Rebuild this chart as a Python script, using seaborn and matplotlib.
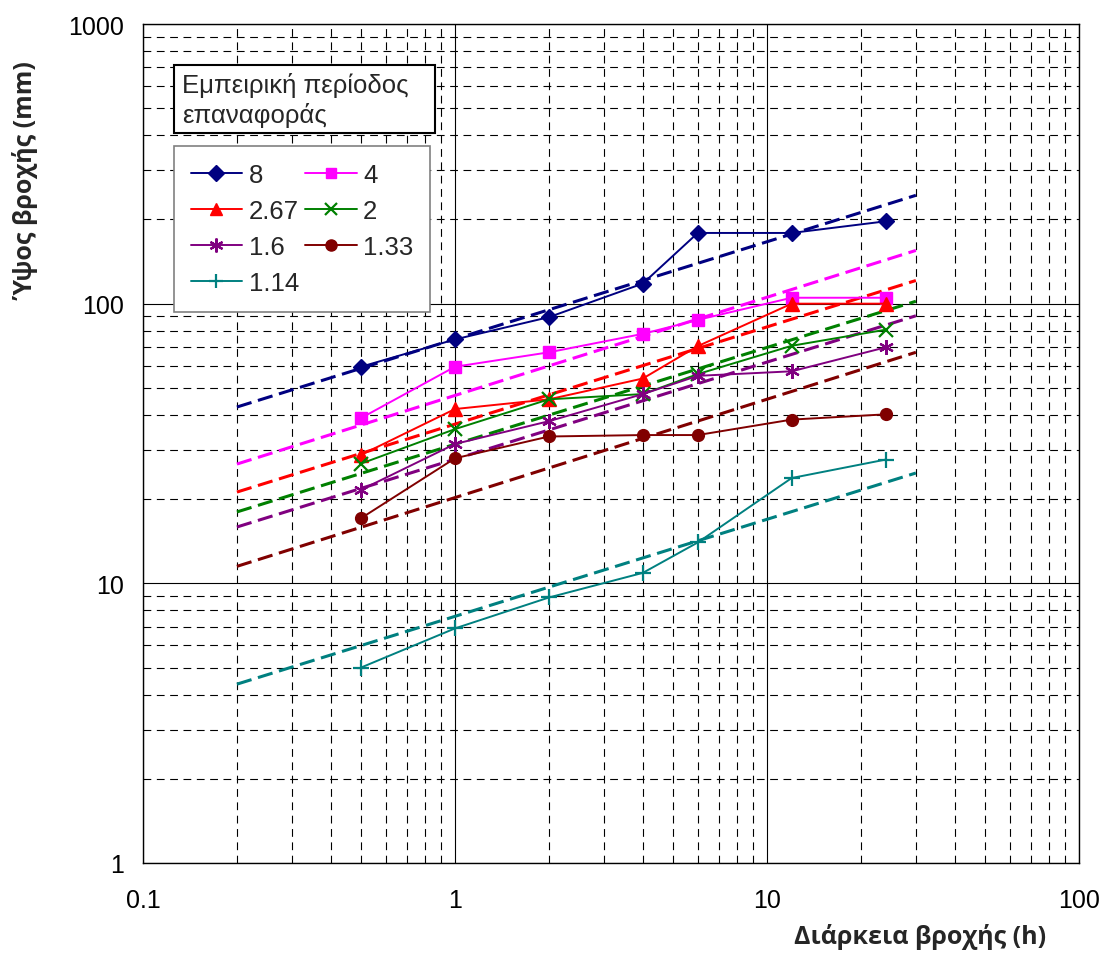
import numpy as np
import pandas as pd
import matplotlib
matplotlib.use("Agg")
import matplotlib.pyplot as plt
from matplotlib.patches import Rectangle
from matplotlib.lines import Line2D
import seaborn as sns

# ---------------- data ----------------
durations = [0.5, 1, 2, 4, 6, 12, 24]  # h
periods = ["8", "4", "2.67", "2", "1.6", "1.33", "1.14"]

depth_8 = [59.5, 74.5, 89.5, 118, 179, 179, 197]
depth_4 = [39, 59.5, 67, 78, 87.5, 105, 105]
depth_267 = [28.8, 42, 45.5, 54, 70.5, 100, 100]
depth_2 = [26.8, 35.6, 45.5, 47.5, 56, 70.7, 80.7]
depth_16 = [21.6, 31.5, 38, 47.5, 55.2, 57.3, 69.8]
depth_133 = [17.1, 28, 33.5, 33.9, 33.9, 38.5, 40.2]
depth_114 = [5.0, 6.9, 8.9, 10.9, 14.0, 23.8, 27.7]

fit_durations = [0.2, 30]
fit_8 = [42.7, 244]
fit_4 = [26.7, 155]
fit_267 = [21.2, 121]
fit_2 = [18.0, 102]
fit_16 = [15.9, 90.5]
fit_133 = [11.5, 67]
fit_114 = [4.36, 24.8]

x_ticks = [0.1, 1, 10, 100]
x_ticklabels = ["0.1", "1", "10", "100"]
y_ticks = [1, 10, 100, 1000]
y_ticklabels = ["1", "10", "100", "1000"]

observed = [depth_8, depth_4, depth_267, depth_2, depth_16, depth_133, depth_114]
fitted = [fit_8, fit_4, fit_267, fit_2, fit_16, fit_133, fit_114]

colors = ["#000080", "#FF00FF", "#FF0000", "#008000", "#800080", "#800000", "#008080"]
markers = ["D", "s", "^", "x", (6, 2, 0), "o", "+"]
msizes = [8.5, 8, 9.5, 9.5, 10.5, 8.5, 11]

# ---------------- style ----------------
sns.set_theme(style="white")
plt.rcParams["font.family"] = ["Liberation Sans", "DejaVu Sans"]

W, H = 1105, 954
fig = plt.figure(figsize=(W / 100, H / 100), dpi=100)
ax = fig.add_axes([143 / W, 1 - 864 / H, (1079 - 143) / W, (864 - 25) / H])

ax.set_xscale("log")
ax.set_yscale("log")
ax.set_xlim(0.1, 100)
ax.set_ylim(1, 1000)

# grid
ax.grid(True, which="major", color="#000000", linewidth=0.8, linestyle="-", zorder=0)
ax.grid(True, which="minor", color="#000000", linewidth=0.8, linestyle=(0, (7, 5)), zorder=0)
ax.set_axisbelow(True)

handles = []
for per, obs, fit, c, m, ms in zip(periods, observed, fitted, colors, markers, msizes):
    sns.lineplot(x=fit_durations, y=fit, ax=ax, color=c, linewidth=2.2,
                 linestyle=(0, (5, 2.2)), zorder=3)
    dfo = pd.DataFrame({"d": durations, "v": obs})
    mew = 1.6 if m in ("x", "+") or isinstance(m, tuple) else 1.0
    sns.lineplot(data=dfo, x="d", y="v", ax=ax, color=c, linewidth=1.4,
                 marker=m, markersize=ms, markeredgecolor=c, markerfacecolor=c,
                 markeredgewidth=mew, zorder=4)
    handles.append(Line2D([], [], color=c, linewidth=1.4, marker=m, markersize=ms - 0.5,
                          markeredgecolor=c, markerfacecolor=c, markeredgewidth=mew, label=per))

ax.set_xticks(x_ticks)
ax.set_xticklabels(x_ticklabels)
ax.set_yticks(y_ticks)
ax.set_yticklabels(y_ticklabels)
ax.tick_params(axis="both", which="major", direction="out", length=6, width=1,
               color="black", labelsize=18, labelcolor="black")
ax.tick_params(axis="x", which="major", pad=12)
ax.tick_params(axis="y", which="major", pad=8)
ax.tick_params(axis="both", which="minor", length=0)
ax.xaxis.set_minor_formatter(matplotlib.ticker.NullFormatter())
ax.yaxis.set_minor_formatter(matplotlib.ticker.NullFormatter())
for s in ax.spines.values():
    s.set_color("black")
    s.set_linewidth(1.0)

ax.set_xlabel("")
ax.set_ylabel("")

# axis titles
fig.text(920 / W, 1 - 937 / H, "Διάρκεια βροχής (h)", ha="center", va="center",
         fontsize=18, fontweight="bold", family=["Open Sans", "DejaVu Sans"])
fig.text(27 / W, 1 - 181 / H, "Ύψος βροχής (mm)", ha="center", va="center",
         rotation=90, fontsize=18, fontweight="bold", family=["Open Sans", "DejaVu Sans"])

# legend title box
fig.patches.append(Rectangle((174 / W, 1 - 134 / H), (435 - 174) / W, (134 - 66) / H,
                             transform=fig.transFigure, facecolor="white",
                             edgecolor="black", linewidth=1.5, zorder=10))
fig.text(182 / W, 1 - 101 / H, "Εμπειρική περίοδος\nεπαναφοράς", ha="left", va="center",
         fontsize=18.5, linespacing=1.25, zorder=11)

# legend (column-major order for 2 columns)
order = [0, 2, 4, 6, 1, 3, 5]
leg = ax.legend(handles=[handles[i] for i in order], ncol=2, loc="upper left",
                bbox_to_anchor=((174 - 143) / (1079 - 143), (864 - 147) / (864 - 25)),
                bbox_transform=ax.transAxes, frameon=True, fancybox=False,
                edgecolor="#808080", facecolor="white", framealpha=1,
                fontsize=18.5, handlelength=2.0, handletextpad=0.25,
                columnspacing=0.25, labelspacing=0.47, borderpad=0.65,
                borderaxespad=0)
leg.get_frame().set_linewidth(1.2)
leg.set_zorder(12)

fig.savefig("out.png", dpi=100)
